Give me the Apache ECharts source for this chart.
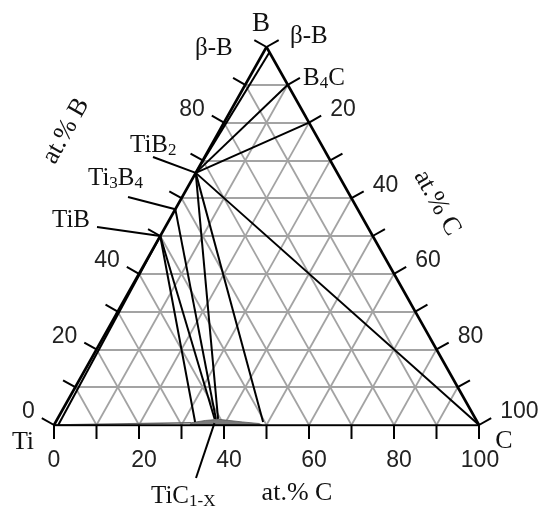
<!DOCTYPE html>
<html><head><meta charset="utf-8">
<script src="https://cdn.jsdelivr.net/npm/echarts@6/dist/echarts.min.js"></script>
<style>html,body{margin:0;padding:0;background:#fff}#c{width:539px;height:511px}</style>
</head><body><div id="c"></div>
<script>
// ---- compositions in at.% : [Ti, B, C] ----
const vertexTi = [100, 0, 0];
const vertexB  = [0, 100, 0];
const vertexC  = [0, 0, 100];
const phaseTiB2  = [33.3, 66.7, 0];
const phaseTi3B4 = [42.9, 57.1, 0];
const phaseTiB   = [50, 50, 0];
const phaseBetaB = [0, 98.6, 1.4];
const phaseB4C_lo = [0, 90, 10];
const phaseB4C_hi = [0, 80, 20];
const phaseTiSol  = [99, 0, 1];
// TiC(1-x) homogeneity range end points / tie-line ends
const ticTiB_lo   = [66.4, 0.8, 32.8];
const ticTiB_hi   = [61.4, 1.6, 37.0];
const ticTi3B4    = [61.1, 1.6, 37.3];
const ticTiB2_lo  = [60.6, 1.6, 37.8];
const ticTiB2_hi  = [50.4, 0.8, 48.8];
const ticTiLimit  = [67.4, 0.6, 32.0];
const ticLabelPt  = [62.0, 0.5, 37.5];
// TiC(1-x) lens outline
const ticLens = [[68,0,32],[51,0,49],[51.6,0.4,48],[55.2,0.8,44],[60.5,1.5,38],[63.8,1.2,35],[67.4,0.6,32]];
// tie lines
const tieLines = [
  [phaseBetaB, phaseTiB2],
  [phaseB4C_lo, phaseTiB2],
  [phaseB4C_hi, phaseTiB2],
  [vertexC, phaseTiB2],
  [phaseTiB2, ticTiB2_hi],
  [phaseTiB2, ticTiB2_lo],
  [phaseTi3B4, ticTi3B4],
  [phaseTiB, ticTiB_hi],
  [phaseTiB, ticTiB_lo],
  [phaseTiSol, phaseTiB]
];
// axis ticks / labels
const tickValues  = [0,10,20,30,40,50,60,70,80,90,100];
const gridValues  = [10,20,30,40,50,60,70,80,90];
const bottomLabels = [0,20,40,60,80,100];
const leftLabels   = [0,20,40,80];
const rightLabels  = [20,40,60,80,100];

const T = p => [p[2] + p[1] / 2, p[1]];
const seg = (a, b) => ({ coords: [T(a), T(b)] });

const gridSegs = [];
gridValues.forEach(k => {
  gridSegs.push(seg([100 - k, k, 0], [0, k, 100 - k]));
  gridSegs.push(seg([100 - k, 0, k], [0, 100 - k, k]));
  gridSegs.push(seg([k, 100 - k, 0], [k, 0, 100 - k]));
});
const edgeSegs = [seg(vertexTi, vertexB), seg(vertexB, vertexC), seg(vertexTi, vertexC)];
const tieSegs = tieLines.map(l => seg(l[0], l[1]));

// tick data: [x, y, edge, value]
const tickData = [];
tickValues.forEach(v => {
  tickData.push(T([100 - v, 0, v]).concat([0, v]));   // bottom: at.% C
  tickData.push(T([100 - v, v, 0]).concat([1, v]));   // left: at.% B
  tickData.push(T([0, 100 - v, v]).concat([2, v]));   // right: at.% C
});

const SERIF = '"Liberation Serif", "Times New Roman", serif';
const SANS = '"Liberation Sans", Arial, sans-serif';
const subRich = { s: { fontSize: 17, fontFamily: SERIF, padding: [12, 0, 0, 0], color: '#111' } };

const annLayout = [
  { pt: phaseTiB2,  text: 'TiB{s|2}',       tx: 130, ty: 145, lx: 153, ly: 157 },
  { pt: phaseTi3B4, text: 'Ti{s|3}B{s|4}',  tx: 88,  ty: 178, lx: 128, ly: 197 },
  { pt: phaseTiB,   text: 'TiB',            tx: 52,  ty: 220, lx: 97,  ly: 227 },
  { pt: ticLabelPt, text: 'TiC{s|1-X}',     tx: 151, ty: 496, lx: 196, ly: 478 }
];

const chart = echarts.init(document.getElementById('c'));
chart.setOption({
  animation: false,
  backgroundColor: '#fff',
  grid: { left: 54, right: 60, top: 47, bottom: 86 },
  xAxis: { type: 'value', min: 0, max: 100, show: false },
  yAxis: { type: 'value', min: 0, max: 100, show: false },
  graphic: [
    { type: 'text', x: 261, y: 24, style: { text: 'B', fontSize: 27, fontFamily: SERIF, fill: '#111', align: 'center', verticalAlign: 'middle' } },
    { type: 'text', x: 195, y: 48, style: { text: 'β-B', fontSize: 25, fontFamily: SERIF, fill: '#111', align: 'left', verticalAlign: 'middle' } },
    { type: 'text', x: 290, y: 36, style: { text: 'β-B', fontSize: 25, fontFamily: SERIF, fill: '#111', align: 'left', verticalAlign: 'middle' } },
    { type: 'text', x: 303, y: 78, style: { text: 'B{s|4}C', fontSize: 25, fontFamily: SERIF, fill: '#111', align: 'left', verticalAlign: 'middle', rich: subRich } },
    { type: 'text', x: 23, y: 442, style: { text: 'Ti', fontSize: 26, fontFamily: SERIF, fill: '#111', align: 'center', verticalAlign: 'middle' } },
    { type: 'text', x: 504, y: 441, style: { text: 'C', fontSize: 26, fontFamily: SERIF, fill: '#111', align: 'center', verticalAlign: 'middle' } },
    { type: 'text', x: 297, y: 493, style: { text: 'at.% C', fontSize: 26, fontFamily: SERIF, fill: '#111', align: 'center', verticalAlign: 'middle' } },
    { type: 'text', x: 437, y: 203, rotation: -1.059, style: { text: 'at.% C', fontSize: 26, fontFamily: SERIF, fill: '#111', align: 'center', verticalAlign: 'middle' } },
    { type: 'text', x: 66, y: 131, rotation: 1.059, style: { text: 'at.% B', fontSize: 26, fontFamily: SERIF, fill: '#111', align: 'center', verticalAlign: 'middle' } }
  ],
  series: [
    { type: 'lines', coordinateSystem: 'cartesian2d', silent: true, z: 1,
      lineStyle: { color: '#a3a3a3', width: 1.8, opacity: 1 }, data: gridSegs },
    { type: 'custom', coordinateSystem: 'cartesian2d', silent: true, z: 2, clip: false,
      data: [[0, 0]],
      renderItem: (params, api) => ({
        type: 'polygon',
        shape: { points: ticLens.map(p => api.coord(T(p))) },
        style: { fill: '#7a7a7a', stroke: '#555', lineWidth: 0.8 }
      }) },
    { type: 'lines', coordinateSystem: 'cartesian2d', silent: true, z: 3,
      lineStyle: { color: '#666', width: 1.5, opacity: 1 }, data: [seg(vertexTi, ticTiLimit)] },
    { type: 'lines', coordinateSystem: 'cartesian2d', silent: true, z: 4,
      lineStyle: { color: '#000', width: 2, opacity: 1 }, data: tieSegs },
    { type: 'lines', coordinateSystem: 'cartesian2d', silent: true, z: 5,
      lineStyle: { color: '#000', width: 2.6, opacity: 1 }, data: edgeSegs },
    { type: 'custom', coordinateSystem: 'cartesian2d', silent: true, z: 6, clip: false,
      data: tickData,
      renderItem: (params, api) => {
        const p = api.coord([api.value(0), api.value(1)]);
        const e = api.value(2), v = api.value(3);
        const pTi = api.coord(T(vertexTi)), pB = api.coord(T(vertexB)), pC = api.coord(T(vertexC));
        let n;
        if (e === 0) n = [0, 1];
        else {
          const a = e === 1 ? pTi : pB, b = e === 1 ? pB : pC;
          const dx = b[0] - a[0], dy = b[1] - a[1], L = Math.hypot(dx, dy);
          n = [dy / L, -dx / L];
        }
        const len = 14;
        const q = [p[0] + n[0] * len, p[1] + n[1] * len];
        const children = [{ type: 'line', shape: { x1: p[0], y1: p[1], x2: q[0], y2: q[1] }, style: { stroke: '#000', lineWidth: 2 } }];
        let lbl = null;
        if (e === 0 && bottomLabels.includes(v)) {
          const sh = v === 0 ? 0 : (v === 100 ? 1 : 5);
          lbl = { x: q[0] + sh, y: q[1] + 22, align: 'center' };
        } else if (e === 1 && leftLabels.includes(v)) {
          lbl = { x: q[0] - 7, y: q[1] - 6, align: 'right' };
        } else if (e === 2 && rightLabels.includes(v)) {
          lbl = { x: q[0] + 9, y: q[1] - 6, align: 'left' };
        }
        if (lbl) children.push({ type: 'text', style: { text: String(v), x: lbl.x, y: lbl.y, align: lbl.align, verticalAlign: 'middle', fontSize: 23, fontFamily: SANS, fill: '#222' } });
        return { type: 'group', children };
      } },
    { type: 'custom', coordinateSystem: 'cartesian2d', silent: true, z: 7, clip: false,
      data: annLayout.map((a, i) => T(a.pt).concat([i])),
      renderItem: (params, api) => {
        const a = annLayout[api.value(2)];
        const p = api.coord([api.value(0), api.value(1)]);
        return { type: 'group', children: [
          { type: 'line', shape: { x1: a.lx, y1: a.ly, x2: p[0], y2: p[1] }, style: { stroke: '#000', lineWidth: 2 } },
          { type: 'text', style: { text: a.text, x: a.tx, y: a.ty, align: 'left', verticalAlign: 'middle', fontSize: 25, fontFamily: SERIF, fill: '#111', rich: subRich } }
        ] };
      } }
  ]
});
</script></body></html>
